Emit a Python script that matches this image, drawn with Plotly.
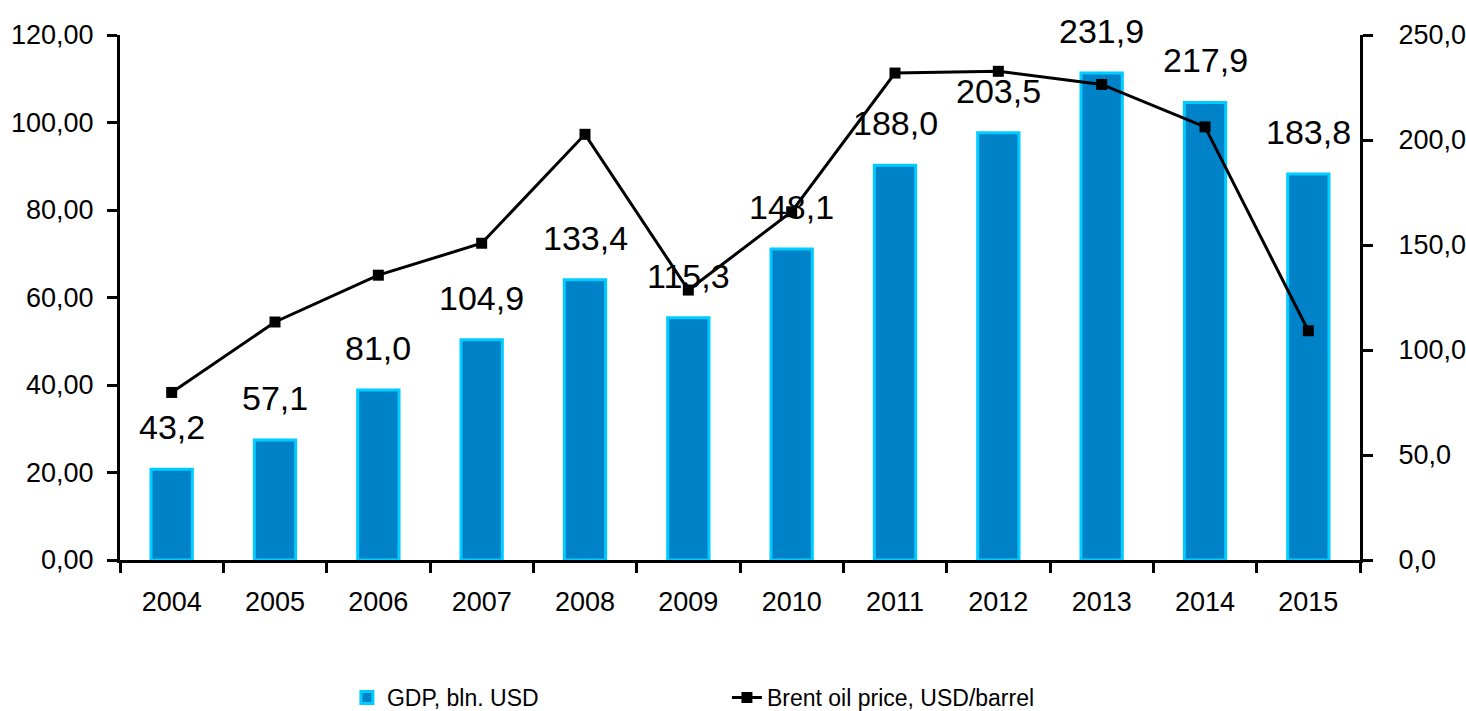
import plotly.graph_objects as go

years = ["2004", "2005", "2006", "2007", "2008", "2009", "2010", "2011", "2012", "2013", "2014", "2015"]
gdp = [43.2, 57.1, 81.0, 104.9, 133.4, 115.3, 148.1, 188.0, 203.5, 231.9, 217.9, 183.8]
brent = [38.3, 54.4, 65.1, 72.4, 97.3, 61.7, 79.6, 111.3, 111.7, 108.7, 99.0, 52.4]

FONT = "Liberation Sans, Arial, sans-serif"

fig = go.Figure()
fig.add_trace(go.Bar(
    x=years, y=gdp, name="GDP, bln. USD", yaxis="y",
    marker=dict(color="#0082C8", line=dict(color="#00CCFF", width=3)),
    width=0.4,
))
fig.add_trace(go.Scatter(
    x=years, y=brent, name="Brent oil price, USD/barrel", yaxis="y2",
    mode="lines+markers",
    line=dict(color="black", width=3),
    marker=dict(symbol="square", size=11, color="black"),
))

annotations = []
for i, v in enumerate(gdp):
    annotations.append(dict(
        x=i, y=v, xref="x", yref="y", text=f"{v:.1f}".replace(".", ","),
        showarrow=False, yanchor="middle", yshift=42,
        font=dict(family=FONT, size=34, color="black"),
    ))

fig.update_layout(
    width=1466, height=711,
    margin=dict(l=120, r=106, t=35, b=151, autoexpand=False),
    paper_bgcolor="white", plot_bgcolor="white",
    separators=",.",
    font=dict(family=FONT, size=27, color="black"),
    showlegend=True,
    legend=dict(orientation="h", x=0.183, xanchor="left", y=-0.262, yanchor="middle",
                font=dict(family=FONT, size=23), entrywidth=335, entrywidthmode="pixels",
                traceorder="normal"),
    xaxis=dict(type="category", showline=True, linecolor="black", linewidth=3,
               ticks="outside", tickson="boundaries", ticklen=10, tickwidth=3, tickcolor="black",
               showgrid=False, zeroline=False, range=[-0.5, 11.5], ticklabelstandoff=16,
               tickfont=dict(family=FONT, size=27)),
    yaxis=dict(side="right", range=[0, 250], dtick=50, tickformat=".1f",
               showline=True, linecolor="black", linewidth=3,
               ticks="outside", ticklen=10, tickwidth=3, tickcolor="black",
               showgrid=False, zeroline=False, ticklabelstandoff=20,
               tickfont=dict(family=FONT, size=27)),
    yaxis2=dict(side="left", overlaying="y", range=[0, 120], dtick=20, tickformat=".2f",
                showline=True, linecolor="black", linewidth=3,
                ticks="outside", ticklen=10, tickwidth=3, tickcolor="black",
                showgrid=False, zeroline=False, ticklabelstandoff=8,
                tickfont=dict(family=FONT, size=27)),
    annotations=annotations,
)

fig.write_html("out.html")
